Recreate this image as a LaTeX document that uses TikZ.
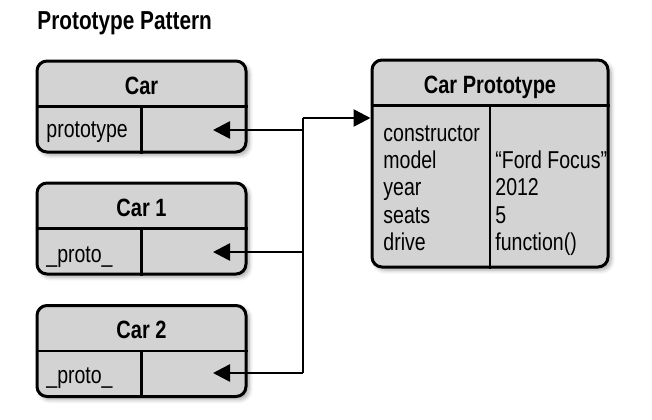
\documentclass[tikz,border=0pt]{standalone}
\usepackage{fontspec}
\setmainfont[FakeStretch=0.8]{Liberation Sans}
\usetikzlibrary{arrows.meta,shadows.blur}
\definecolor{boxgray}{HTML}{D3D3D3}

\begin{document}
\begin{tikzpicture}[x=0.5pt, y=-0.5pt, font=\fontsize{12.2}{14}\selectfont,
		obj/.style = {draw, line width=1.5pt, rounded corners=5pt, fill=boxgray, inner sep=0pt,
			blur shadow={shadow xshift=1.5pt, shadow yshift=-1.5pt, shadow opacity=35, shadow blur steps=6}},
		small/.style = {obj, minimum width=104.5pt, minimum height=45.5pt},
		sep/.style = {line width=1.4pt},
		head/.style = {font=\fontsize{12.5}{14}\selectfont\bfseries, anchor=base, inner sep=0pt},
		field/.style = {anchor=base west, inner sep=0pt},
		link/.style = {line width=1.3pt},
		arr/.style = {link, -{Triangle[length=8.5pt, width=8.5pt]}}]
	\useasboundingbox (0,0) rectangle (652,419);

	\node[anchor=base west, inner sep=0pt, font=\fontsize{13}{15}\selectfont\bfseries] (title) at (37,29) {Prototype Pattern};

	% objects
	\node[small] (car) at (141.5,106.5) {};
	\node[small] (car1) at (141.5,228.5) {};
	\node[small] (car2) at (141.5,351) {};
	\node[obj, minimum width=118pt, minimum height=103.5pt] (proto) at (490,163.5) {};

	\foreach \b in {car,car1,car2} {
		\draw[sep] (\b.west) -- (\b.east);
		\draw[sep] (\b.center) -- (\b.south);
	}
	\draw[sep] ([yshift=-23.5pt]proto.north west) -- ([yshift=-23.5pt]proto.north east);
	\draw[sep] ([yshift=-23.5pt]proto.north) -- (proto.south);

	\node[head] (carhead) at (141.5,94) {Car};
	\node[head] (car1head) at (141.5,216) {Car 1};
	\node[head] (car2head) at (141.5,338) {Car 2};
	\node[head] (protohead) at (490,93) {Car Prototype};

	\node[field] (carkey) at (46,137) {prototype};
	\node[field] (car1key) at (46,262) {\_proto\_};
	\node[field] (car2key) at (46,383) {\_proto\_};

	\foreach \k/\v [count=\i] in {constructor/{}, model/{“Ford Focus”}, year/2012, seats/5, drive/{function()}} {
		\node[field] (key\i) at (383,{141+27.4*(\i-1)}) {\k};
		\node[field] (val\i) at (495,{141+27.4*(\i-1)}) {\v};
	}

	% links
	\coordinate (j0) at (303,118);
	\coordinate (j1) at (303,130);
	\coordinate (j2) at (303,252);
	\coordinate (j3) at (303,373);
	\coordinate (cartip) at (213,130);
	\coordinate (car1tip) at (213,252);
	\coordinate (car2tip) at (213,373);

	\draw[link] (j0) -- (j3);
	\draw[arr] (j0) -- (proto.west |- j0);
	\draw[arr] (j1) -- (cartip);
	\draw[arr] (j2) -- (car1tip);
	\draw[arr] (j3) -- (car2tip);
\end{tikzpicture}
\end{document}
